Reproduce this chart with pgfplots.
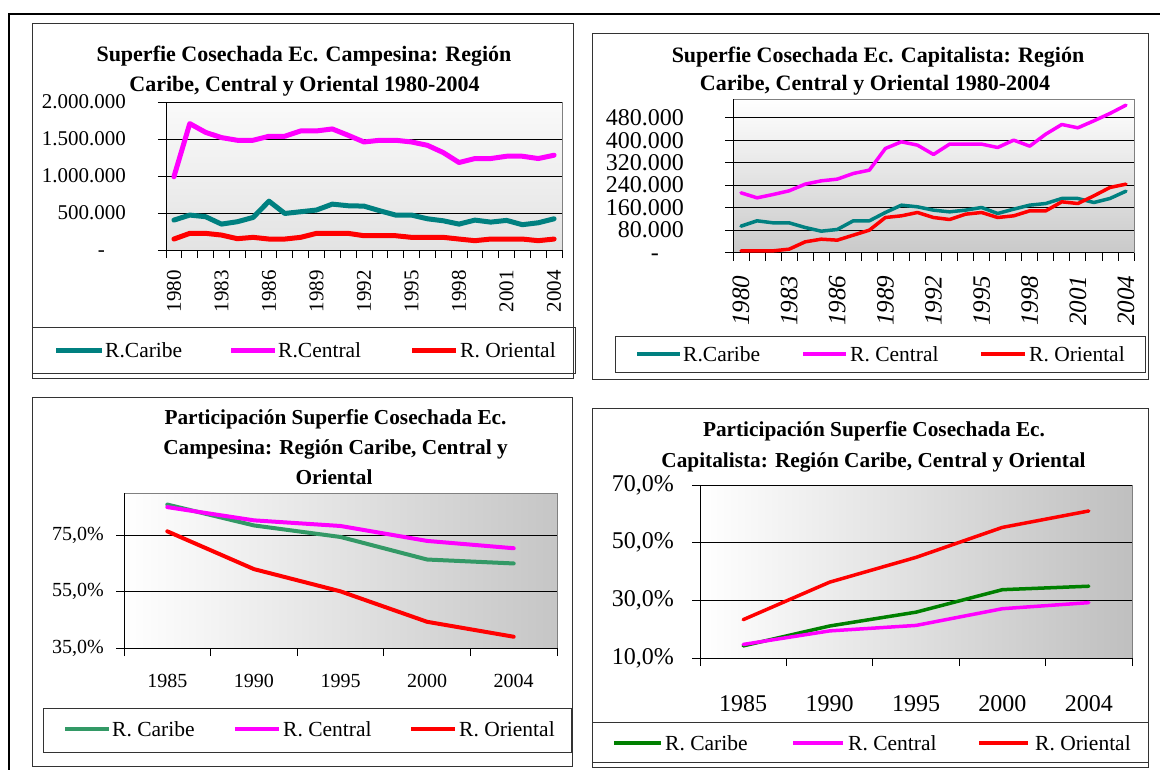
\documentclass[border=0pt]{standalone}
\usepackage{pgfplots}
\usepackage{pgfplotstable}
\pgfplotsset{compat=1.18}
\usepackage{fontspec}
\setmainfont{Liberation Serif}
\usetikzlibrary{shadings}
\definecolor{cteal}{RGB}{0,128,128}
\definecolor{cmag}{RGB}{255,0,255}
\definecolor{cred}{RGB}{255,0,0}
\definecolor{cgreenA}{RGB}{51,153,102}
\definecolor{cgreenB}{RGB}{0,128,0}
\definecolor{cframe}{RGB}{51,51,51}
\newcommand{\fsz}[1]{\fontsize{#1}{#1}\selectfont}

\pgfplotstableread{
i caribe central oriental
0 404000 990000 148000
1 472000 1708000 225000
2 450000 1590000 225000
3 350000 1519000 202000
4 382000 1483000 153000
5 440000 1483000 171000
6 660000 1537000 148000
7 494000 1537000 148000
8 517000 1609000 171000
9 540000 1609000 225000
10 620000 1636000 225000
11 598000 1550000 225000
12 593000 1460000 193000
13 530000 1483000 193000
14 472000 1483000 193000
15 472000 1460000 171000
16 422000 1415000 171000
17 395000 1317000 171000
18 350000 1182000 148000
19 404000 1236000 126000
20 377000 1236000 148000
21 400000 1267000 148000
22 342000 1267000 148000
23 368000 1236000 126000
24 422000 1281000 148000
}\tabA

\pgfplotstableread{
i caribe central oriental
0 93900 212700 5900
1 112900 194800 5900
2 105700 206700 5900
3 105700 219800 11900
4 89100 243600 38000
5 76000 255400 47500
6 82000 261400 44000
7 112900 281600 61800
8 112900 293500 79600
9 142600 370700 124700
10 168700 394400 130700
11 162800 382600 142600
12 150900 349300 124700
13 144900 386100 117600
14 150900 386100 136600
15 160400 386100 142600
16 139000 374200 124700
17 154500 400400 130700
18 168700 379000 148500
19 174600 421800 148500
20 192500 456200 180600
21 192500 444300 174600
22 178200 469300 202000
23 192500 495400 231700
24 218600 525100 243600
}\tabB

\pgfplotstableread{
i caribe central oriental
0 85.9 85.0 76.4
1 78.5 80.3 63.0
2 74.4 78.3 55.1
3 66.4 73.0 44.3
4 65.0 70.4 39.0
}\tabC

\pgfplotstableread{
i caribe central oriental
0 14.2 14.7 23.3
1 21.1 19.4 36.3
2 25.9 21.3 44.9
3 33.7 27.1 55.3
4 34.9 29.2 61.0
}\tabD

\pgfplotsset{
  panel/.style={scale only axis, anchor=south west, axis lines*=left,
    axis line style={black, line width=0.8pt},
    tick align=outside, major tick length=8pt,
    tick style={black, line width=0.8pt},
    ymajorgrids, major grid style={black, line width=0.8pt},
    scaled y ticks=false,
    every axis plot/.append style={line join=round, line cap=round}},
}

\begin{document}
\begin{tikzpicture}
\useasboundingbox (0pt,0pt) rectangle (1160pt,-769pt);
% outer frame
\draw[line width=2pt] (9pt,-775pt) -- (9pt,-14pt) -- (1170pt,-14pt);
% panel boxes
\draw[cframe, line width=1pt] (32pt,-23pt) rectangle (573pt,-378pt);
\draw[cframe, line width=1pt] (32pt,-327pt) rectangle (575pt,-373pt);
\draw[cframe, line width=1pt] (592pt,-33pt) rectangle (1148pt,-379pt);
\draw[cframe, line width=1pt] (615pt,-336pt) rectangle (1145pt,-372pt);
\draw[cframe, line width=1pt] (32pt,-397pt) rectangle (572pt,-766pt);
\draw[cframe, line width=1pt] (43pt,-708pt) rectangle (571pt,-752pt);
\draw[cframe, line width=1pt] (592pt,-408pt) rectangle (1148pt,-767pt);
\draw[cframe, line width=1pt] (592pt,-722pt) rectangle (1148pt,-762pt);

% ---------- Panel 1 ----------
\begin{axis}[panel, at={(166pt,-250pt)}, width=396pt, height=148pt,
  xmin=-0.5, xmax=24.5, ymin=0, ymax=2000000,
  axis background/.style={top color=gray!4, bottom color=gray!22, draw=gray, line width=0.8pt},
  xtick={-0.5,0.5,...,24.5}, xticklabels={},
  extra x ticks={0,3,...,24},
  extra x tick labels={1980,1983,1986,1989,1992,1995,1998,2001,2004},
  extra x tick style={major tick length=0pt, xticklabel style={rotate=90, anchor=east, inner sep=0pt, xshift=-20pt, font=\fsz{21pt}}},
  ytick={0,500000,1000000,1500000,2000000},
  yticklabels={{\vphantom{0}-\hspace*{21pt}},500.000,1.000.000,1.500.000,2.000.000},
  yticklabel style={anchor=east, inner sep=0pt, xshift=-32pt, font=\fsz{21pt}},
]
\addplot[cteal, line width=5pt] table[x=i, y=caribe]{\tabA};
\addplot[cmag, line width=5pt] table[x=i, y=central]{\tabA};
\addplot[cred, line width=5pt] table[x=i, y=oriental]{\tabA};
\end{axis}

% ---------- Panel 2 ----------
\begin{axis}[panel, at={(733pt,-252.5pt)}, width=401pt, height=153.5pt,
  xmin=-0.5, xmax=24.5, ymin=0, ymax=547000,
  axis background/.style={top color=white, bottom color=gray!42, draw=gray, line width=0.8pt},
  xtick={-0.5,0.5,...,24.5}, xticklabels={},
  extra x ticks={0,3,...,24},
  extra x tick labels={1980,1983,1986,1989,1992,1995,1998,2001,2004},
  extra x tick style={major tick length=0pt, xticklabel style={rotate=90, anchor=east, inner sep=0pt, xshift=-23pt, font=\itshape\fsz{25pt}}},
  ytick={0,80000,160000,240000,320000,400000,480000},
  yticklabels={{\vphantom{0}-\hspace*{25pt}},80.000,160.000,240.000,320.000,400.000,480.000},
  yticklabel style={anchor=east, inner sep=0pt, xshift=-41pt, font=\fsz{24pt}},
]
\addplot[cteal, line width=3.5pt] table[x=i, y=caribe]{\tabB};
\addplot[cmag, line width=3.5pt] table[x=i, y=central]{\tabB};
\addplot[cred, line width=3.5pt] table[x=i, y=oriental]{\tabB};
\end{axis}

% ---------- Panel 3 ----------
\begin{axis}[panel, at={(124pt,-648pt)}, width=433pt, height=155pt,
  xmin=-0.5, xmax=4.5, ymin=35, ymax=90,
  axis background/.style={left color=white, right color=gray!45, draw=gray, line width=0.8pt},
  xtick={-0.5,0.5,...,4.5}, xticklabels={},
  extra x ticks={0,1,2,3,4},
  extra x tick labels={1985,1990,1995,2000,2004},
  extra x tick style={major tick length=0pt, xticklabel style={anchor=north, inner sep=0pt, yshift=-26pt, font=\fsz{20pt}}},
  ytick={35,55,75},
  yticklabels={{35,0\%},{55,0\%},{75,0\%}},
  yticklabel style={anchor=east, inner sep=0pt, xshift=-12pt, font=\fsz{20pt}},
]
\addplot[cgreenA, line width=4pt] table[x=i, y=caribe]{\tabC};
\addplot[cmag, line width=4pt] table[x=i, y=central]{\tabC};
\addplot[cred, line width=4pt] table[x=i, y=oriental]{\tabC};
\end{axis}

% ---------- Panel 4 ----------
\begin{axis}[panel, at={(700pt,-658pt)}, width=432pt, height=173pt,
  xmin=-0.5, xmax=4.5, ymin=10, ymax=70,
  axis background/.style={left color=white, right color=gray!50, draw=gray, line width=0.8pt},
  xtick={-0.5,0.5,...,4.5}, xticklabels={},
  extra x ticks={0,1,2,3,4},
  extra x tick labels={1985,1990,1995,2000,2004},
  extra x tick style={major tick length=0pt, xticklabel style={anchor=north, inner sep=0pt, yshift=-37pt, font=\fsz{24pt}}},
  ytick={10,30,50,70},
  yticklabels={{10,0\%},{30,0\%},{50,0\%},{70,0\%}},
  yticklabel style={anchor=east, inner sep=0pt, xshift=-18pt, font=\fsz{24pt}},
]
\addplot[cgreenB, line width=3.5pt] table[x=i, y=caribe]{\tabD};
\addplot[cmag, line width=3.5pt] table[x=i, y=central]{\tabD};
\addplot[cred, line width=3.5pt] table[x=i, y=oriental]{\tabD};
\end{axis}

% ---------- Titles ----------
\begin{scope}[every node/.style={anchor=base, inner sep=0pt, font=\bfseries\fsz{22pt}}]
\node at (304pt,-61pt) {Superfie Cosechada Ec. Campesina: Región};
\node at (304.5pt,-91pt) {Caribe, Central y Oriental 1980-2004};
\node at (878pt,-62pt) {Superfie Cosechada Ec. Capitalista: Región};
\node at (875pt,-90.5pt) {Caribe, Central y Oriental 1980-2004};
\end{scope}
\begin{scope}[every node/.style={anchor=base, inner sep=0pt, font=\bfseries\fsz{21.3pt}}]
\node at (335.5pt,-424pt) {Participación Superfie Cosechada Ec.};
\node at (335.5pt,-454pt) {Campesina: Región Caribe, Central y};
\node at (334pt,-484pt) {Oriental};
\node at (874pt,-436pt) {Participación Superfie Cosechada Ec.};
\node at (873.5pt,-467pt) {Capitalista: Región Caribe, Central y Oriental};
\end{scope}

% ---------- Legends ----------
\begin{scope}[every node/.style={anchor=west, inner sep=0pt, font=\fsz{21.5pt}}]
% panel 1
\draw[cteal, line width=5pt] (56pt,-350pt) -- (102pt,-350pt);
\node at (105pt,-350pt) {R.Caribe};
\draw[cmag, line width=5pt] (231pt,-350pt) -- (275pt,-350pt);
\node at (278pt,-350pt) {R.Central};
\draw[cred, line width=5pt] (412pt,-350pt) -- (456pt,-350pt);
\node at (460pt,-350pt) {R. Oriental};
% panel 2
\draw[cteal, line width=3.5pt] (637pt,-354pt) -- (680pt,-354pt);
\node at (683pt,-354pt) {R.Caribe};
\draw[cmag, line width=3.5pt] (803pt,-354pt) -- (846pt,-354pt);
\node at (850pt,-354pt) {R. Central};
\draw[cred, line width=3.5pt] (981pt,-354pt) -- (1025pt,-354pt);
\node at (1029pt,-354pt) {R. Oriental};
% panel 3
\draw[cgreenA, line width=4pt] (65pt,-729pt) -- (109pt,-729pt);
\node at (112pt,-729pt) {R. Caribe};
\draw[cmag, line width=4pt] (235pt,-729pt) -- (279pt,-729pt);
\node at (283pt,-729pt) {R. Central};
\draw[cred, line width=4pt] (411pt,-729pt) -- (455pt,-729pt);
\node at (459pt,-729pt) {R. Oriental};
% panel 4
\draw[cgreenB, line width=4pt] (614pt,-743pt) -- (661pt,-743pt);
\node at (665pt,-743pt) {R. Caribe};
\draw[cmag, line width=4pt] (793pt,-743pt) -- (843pt,-743pt);
\node at (848pt,-743pt) {R. Central};
\draw[cred, line width=4pt] (979pt,-743pt) -- (1028pt,-743pt);
\node at (1035pt,-743pt) {R. Oriental};
\end{scope}
\end{tikzpicture}
\end{document}
